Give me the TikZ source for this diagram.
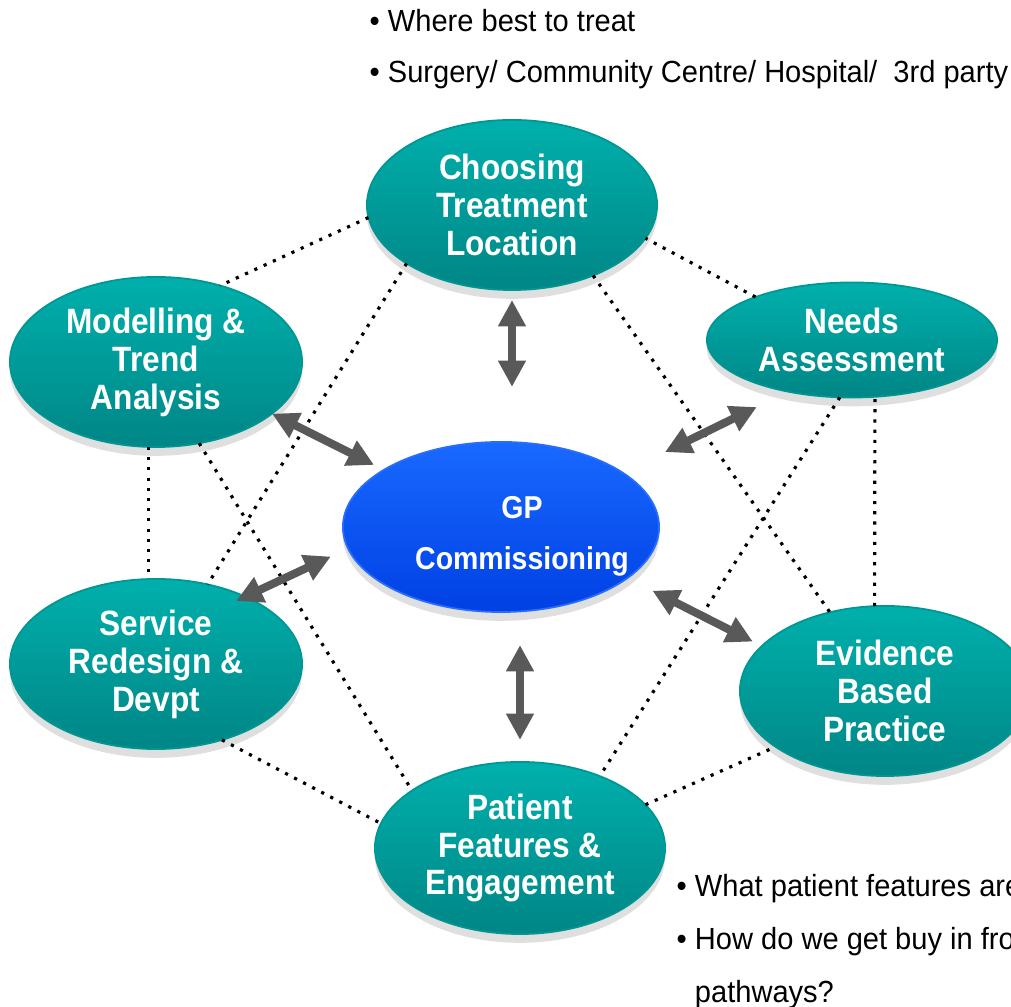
\documentclass[tikz,border=0pt]{standalone}
\usepackage{fontspec}
\newfontfamily\lblfont{Liberation Sans}[FakeStretch=0.9]
\newfontfamily\notefont{Liberation Sans}[FakeStretch=0.95]
\usetikzlibrary{calc,shadows,shapes.geometric,arrows.meta}

\definecolor{tealtop}{RGB}{0,176,172}
\definecolor{tealbot}{RGB}{0,134,134}
\definecolor{tealrim}{RGB}{0,150,148}
\definecolor{bluetop}{RGB}{25,105,255}
\definecolor{bluebot}{RGB}{0,64,228}
\definecolor{bluerim}{RGB}{40,110,250}
\definecolor{arrowgray}{RGB}{89,89,89}

\tikzset{
  topic/.style={ellipse, inner sep=0pt, outer sep=0pt, draw=tealrim, line width=0.5pt,
    top color=tealtop, bottom color=tealbot, text=white, align=center,
    minimum width=2.9cm, minimum height=1.7cm,
    font=\lblfont\bfseries\fontsize{10}{10.8}\selectfont,
    drop shadow={shadow xshift=0pt, shadow yshift=-2.5pt, opacity=0.25}},
  hub/.style={topic, draw=bluerim, top color=bluetop, bottom color=bluebot,
    minimum width=3.16cm, minimum height=1.7cm,
    font=\lblfont\bfseries\fontsize{9}{14.5}\selectfont},
  link/.style={dotted, line width=0.9pt, black},
  twoway/.style={{Triangle[width=7.5pt,length=7.5pt]}-{Triangle[width=7.5pt,length=7.5pt]},
    line width=2.3pt, arrowgray},
  note/.style={align=left, inner sep=0pt, anchor=base west}
}

\begin{document}
\begin{tikzpicture}[x=0.01cm, y=-0.01cm]
  \useasboundingbox (0,0) rectangle (1011,1007);

  % the hexagon of topics round the hub
  \node[topic] (choose) at (512,205) {Choosing\\Treatment\\Location};
  \node[topic, minimum width=2.92cm] (model) at (156,362) {Modelling \&\\Trend\\Analysis};
  \node[topic, minimum height=1.15cm] (needs) at (852,340) {Needs\\Assessment};
  \node[topic, minimum width=2.92cm] (service) at (156,664) {Service\\Redesign \&\\Devpt};
  \node[topic] (evidence) at (885,691) {Evidence\\Based\\Practice};
  \node[topic, minimum height=1.72cm] (patient) at (520,848) {Patient\\Features \&\\Engagement};
  \node[hub] (gp) at (501,527)
    {\makebox[0pt]{\hspace*{4.2mm}\rule{0pt}{11.6pt}GP}\\\makebox[0pt]{\hspace*{4.2mm}Commissioning}};

  % dotted links
  \draw[link] (choose.185) -- (model.50);
  \draw[link] (model.265) -- (service.95);
  \draw[link] (service.311) -- (patient.170);
  \draw[link] (patient.19) -- (evidence.207);
  \draw[link] (evidence.97) -- (needs.292);
  \draw[link] (needs.156) -- (choose.346);
  \draw[link] (choose.209) -- (service.57);
  \draw[link] (model.298) -- (patient.152);
  \draw[link] (choose.319) -- (evidence.125);
  \draw[link] (needs.258) -- (patient.42);

  % two-way arrows to the hub
  \draw[twoway, shorten <=1mm, shorten >=5.5mm] (choose.south) -- (choose.south |- gp.north);
  \draw[twoway, shorten <=3.3mm, shorten >=2.2mm] (patient.north |- gp.south) -- (patient.north);
  \draw[twoway, shorten >=1.1mm] (model.336) -- (gp.154.5);
  \draw[twoway, shorten <=3.5mm, shorten >=4.7mm] (needs.219.6) -- (gp.24);
  \draw[twoway, shorten <=-1mm, shorten >=1.9mm] (service.37) -- (gp.188.5);
  \draw[twoway, shorten <=2.8mm, shorten >=1mm] (gp.338) -- (evidence.160.7);

  % notes (base is the last line)
  \node[note, font=\notefont\fontsize{8.7}{14.5}\selectfont] (where) at (369,83)
    {\textbullet\ Where best to treat\\\textbullet\ Surgery/ Community Centre/ Hospital/\ \ 3rd party};
  \node[note, font=\notefont\fontsize{8.7}{15.1}\selectfont] (buyin) at (676,1003)
    {\textbullet\ What patient features are\\\textbullet\ How do we get buy in from\\\phantom{\textbullet\ }pathways?};
\end{tikzpicture}
\end{document}
